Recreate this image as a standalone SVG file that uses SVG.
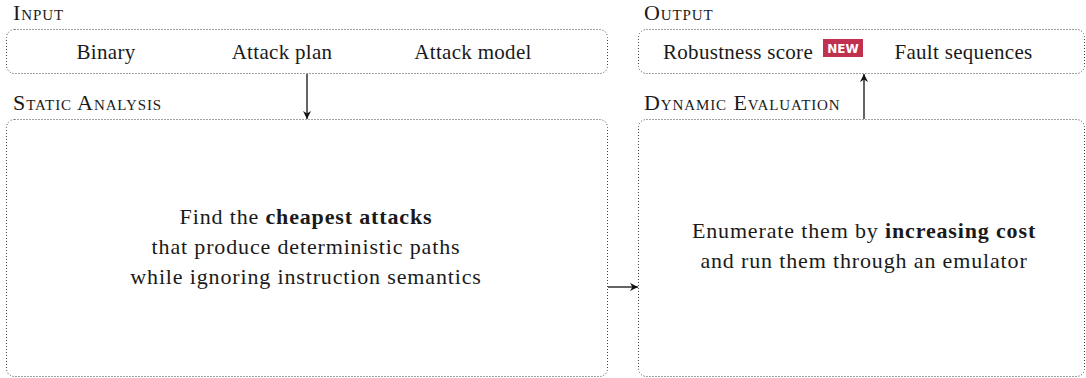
<svg xmlns="http://www.w3.org/2000/svg" width="1086" height="378" viewBox="0 0 1086 378">
  <style>
    .box { fill: none; stroke: #444; stroke-width: 1; stroke-dasharray: 1 2; }
    .item { font-family: "Liberation Serif", "DejaVu Serif", serif; font-size: 21px; letter-spacing: 0.3px; fill: #1a1a1a; }
    .txt { font-family: "Liberation Serif", "DejaVu Serif", serif; font-size: 22px; letter-spacing: 0.85px; fill: #1a1a1a; }
    .lbl { font-family: "Liberation Serif", "DejaVu Serif", serif; font-size: 22px; letter-spacing: 0.9px; font-variant: small-caps; fill: #1a1a1a; }
    .b { font-weight: bold; }
    .conn { stroke: #111; stroke-width: 1.3; fill: none; }
    .badge { font-family: "DejaVu Sans", "Liberation Sans", sans-serif; font-size: 12px; font-weight: bold; fill: #fff; }
  </style>
  <defs>
    <marker id="arrow" viewBox="0 0 10 10" refX="10" refY="5" markerWidth="8" markerHeight="8" markerUnits="userSpaceOnUse" orient="auto">
      <path d="M0,0 L10,5 L0,10 L3,5 Z" fill="#111"/>
    </marker>
  </defs>
  <rect width="1086" height="378" fill="#fff"/>

  <g id="input">
    <text class="lbl" x="13" y="20">Input</text>
    <rect class="box" x="6.5" y="29.5" width="601" height="44" rx="8"/>
    <text class="item" x="106" y="59" text-anchor="middle">Binary</text>
    <text class="item" x="282" y="59" text-anchor="middle">Attack plan</text>
    <text class="item" x="473" y="59" text-anchor="middle">Attack model</text>
  </g>

  <g id="static-analysis">
    <text class="lbl" x="13" y="110">Static Analysis</text>
    <rect class="box" x="6.5" y="119.5" width="601" height="257" rx="8"/>
    <text class="txt" x="306" y="224" text-anchor="middle">Find the <tspan class="b">cheapest attacks</tspan></text>
    <text class="txt" x="306" y="254" text-anchor="middle">that produce deterministic paths</text>
    <text class="txt" x="306" y="284" text-anchor="middle">while ignoring instruction semantics</text>
  </g>

  <g id="output">
    <text class="lbl" x="644" y="20">Output</text>
    <rect class="box" x="638.5" y="29.5" width="446" height="44" rx="8"/>
    <text class="item" x="738" y="59" text-anchor="middle">Robustness score</text>
    <rect x="823" y="39" width="40" height="18" fill="#c0304f"/>
    <text class="badge" x="843" y="53" text-anchor="middle">NEW</text>
    <text class="item" x="963.5" y="59" text-anchor="middle">Fault sequences</text>
  </g>

  <g id="dynamic-evaluation">
    <text class="lbl" x="644" y="110">Dynamic Evaluation</text>
    <rect class="box" x="638.5" y="119.5" width="446" height="257" rx="8"/>
    <text class="txt" x="864" y="238" text-anchor="middle">Enumerate them by <tspan class="b">increasing cost</tspan></text>
    <text class="txt" x="864" y="268" text-anchor="middle">and run them through an emulator</text>
  </g>

  <g id="connectors">
    <line class="conn" x1="307" y1="74" x2="307" y2="119" marker-end="url(#arrow)"/>
    <line class="conn" x1="608" y1="287" x2="638" y2="287" marker-end="url(#arrow)"/>
    <line class="conn" x1="864" y1="119" x2="864" y2="74" marker-end="url(#arrow)"/>
  </g>
</svg>
